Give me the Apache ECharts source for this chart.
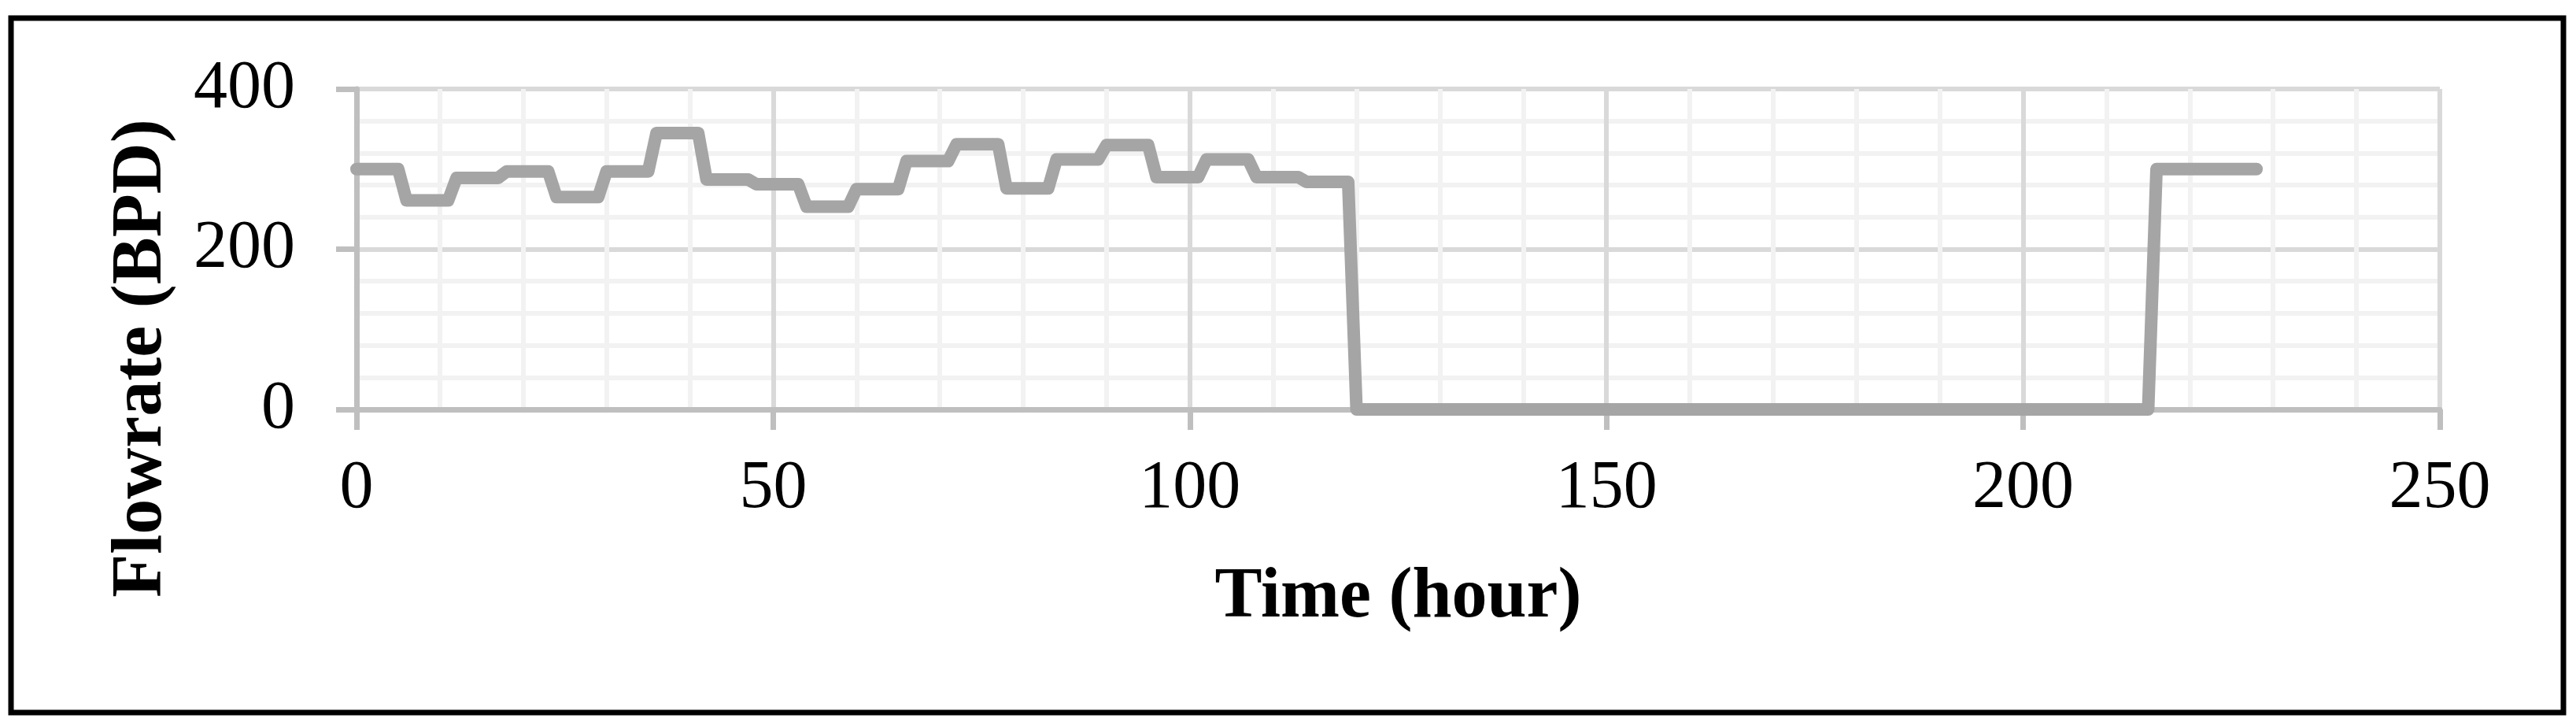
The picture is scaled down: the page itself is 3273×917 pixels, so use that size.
<!DOCTYPE html>
<html>
<head>
<meta charset="utf-8">
<script src="https://cdn.jsdelivr.net/npm/echarts@6/dist/echarts.min.js"></script>
<style>
  html, body { margin: 0; padding: 0; background: #fff; }
  #main { width: 3273px; height: 917px; }
</style>
</head>
<body>
<div id="main"></div>
<script>
// hours and flowrate (steps every ~6 h)
var hours = [0, 5, 6, 11, 12, 17, 18, 23, 24, 29, 30, 35, 36, 41, 42, 47, 48, 53, 54, 59,
  60, 65, 66, 71, 72, 77, 78, 83, 84, 89, 90, 95, 96, 101, 102, 107, 108, 113, 114, 119,
  120, 215, 216, 228];
var flowrate = [300, 300, 261, 261, 289, 289, 297, 297, 265, 265, 297, 297, 345, 345, 287, 287, 281, 281, 253, 253,
  275, 275, 310, 310, 331, 331, 276, 276, 312, 312, 330, 330, 290, 290, 312, 312, 290, 290, 284, 284,
  0, 0, 300, 300];
var xTicks = [0, 50, 100, 150, 200, 250];
var yTicks = [0, 200, 400];

var points = [];
for (var i = 0; i < hours.length; i++) {
  points.push([hours[i], flowrate[i]]);
}

var myChart = echarts.init(document.getElementById('main'));
var font = 'Liberation Serif';

var option = {
  animation : false,
  backgroundColor : '#fff',
  grid : {
    left : 453,
    right : 173,
    top : 113,
    bottom : 397
  },
  graphic : [ {
    type : 'rect',
    shape : { x : 14, y : 23, width : 3243, height : 882 },
    style : { fill : 'none', stroke : '#000', lineWidth : 7 },
    z : 100
  }, {
    type : 'text',
    x : 181,
    y : 455,
    rotation : Math.PI / 2,
    style : {
      text : 'Flowrate (BPD)',
      font : 'bold 90px "' + font + '"',
      fill : '#000',
      align : 'center',
      verticalAlign : 'middle'
    }
  } ],
  xAxis : {
    type : 'value',
    min : xTicks[0],
    max : xTicks[xTicks.length - 1],
    interval : 50,
    name : 'Time (hour)',
    nameLocation : 'middle',
    nameGap : 195,
    nameTextStyle : {
      fontFamily : font,
      fontWeight : 'bold',
      fontSize : 90,
      color : '#000'
    },
    axisLine : { show : true, lineStyle : { color : '#bfbfbf', width : 7 } },
    axisTick : { show : true, length : 26, lineStyle : { color : '#bfbfbf', width : 7 } },
    axisLabel : {
      margin : 58,
      fontFamily : font,
      fontSize : 86,
      color : '#000'
    },
    splitLine : { show : true, lineStyle : { color : '#d9d9d9', width : 6 } },
    minorTick : { show : false, splitNumber : 5 },
    minorSplitLine : { show : true, lineStyle : { color : '#f2f2f2', width : 6 } }
  },
  yAxis : {
    type : 'value',
    min : yTicks[0],
    max : yTicks[yTicks.length - 1],
    interval : 200,
    axisLine : { show : true, lineStyle : { color : '#bfbfbf', width : 7 } },
    axisTick : { show : true, length : 26, lineStyle : { color : '#bfbfbf', width : 7 } },
    axisLabel : {
      margin : 78,
      fontFamily : font,
      fontSize : 86,
      color : '#000'
    },
    splitLine : { show : true, lineStyle : { color : '#d9d9d9', width : 6 } },
    minorTick : { show : false, splitNumber : 5 },
    minorSplitLine : { show : true, lineStyle : { color : '#f2f2f2', width : 6 } }
  },
  series : [ {
    name : 'Flowrate',
    type : 'line',
    data : points,
    showSymbol : false,
    symbol : 'none',
    lineStyle : {
      color : '#a5a5a5',
      width : 16,
      cap : 'round',
      join : 'round'
    },
    z : 10
  } ]
};
myChart.setOption(option);
</script>
</body>
</html>
